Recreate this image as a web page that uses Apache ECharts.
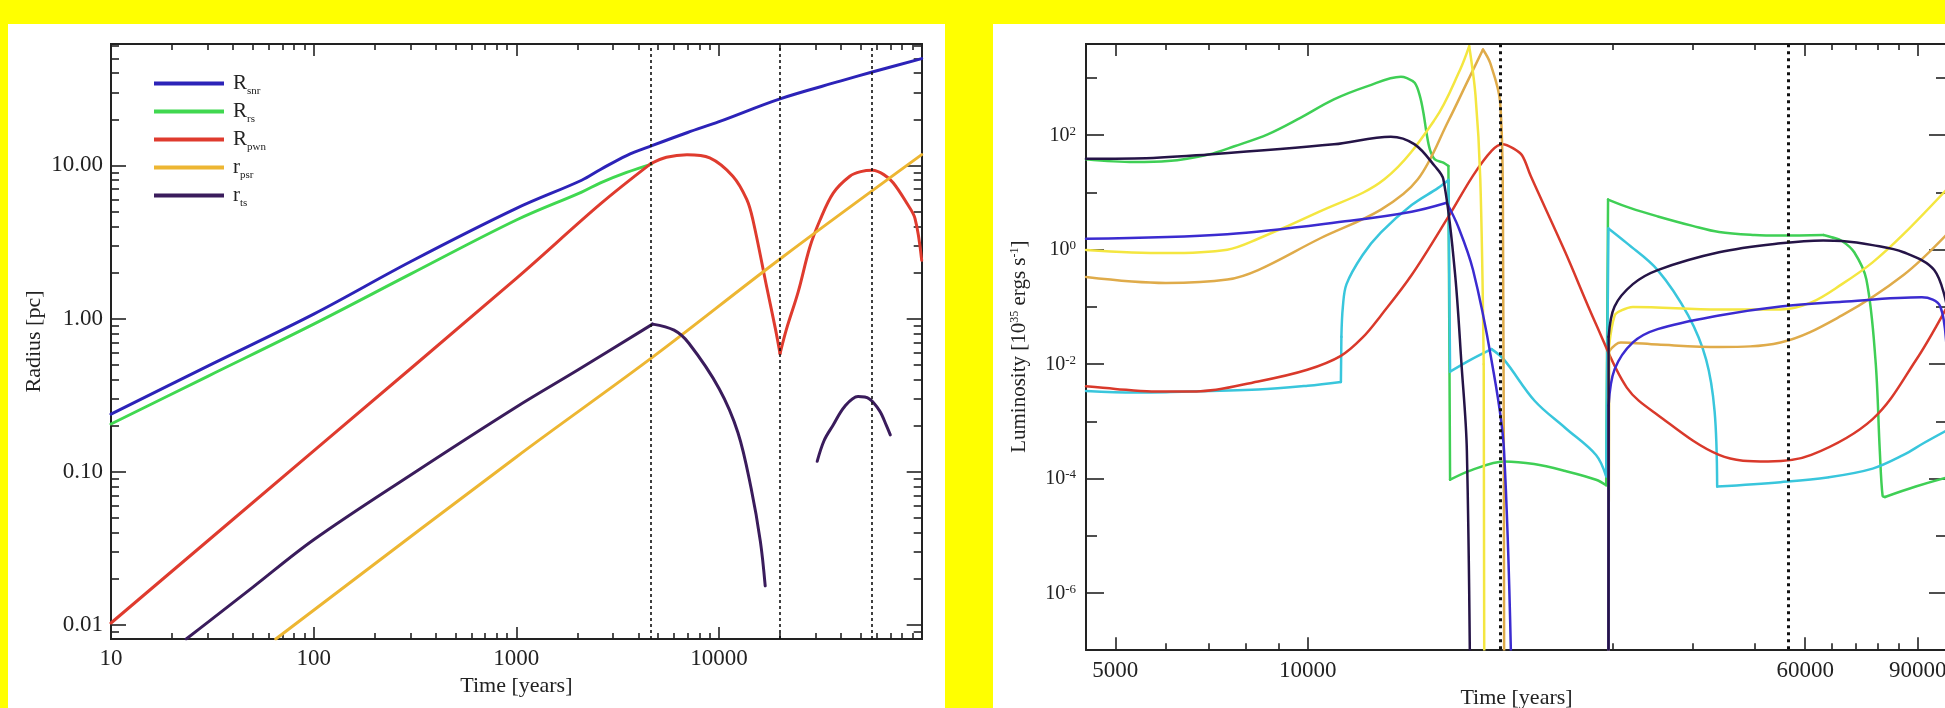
<!DOCTYPE html>
<html>
<head>
<meta charset="utf-8">
<script src="https://cdn.jsdelivr.net/npm/echarts@6/dist/echarts.min.js"></script>
<style>
  html, body { margin: 0; padding: 0; background: #ffff00; }
  #chart { width: 1945px; height: 708px; }
</style>
</head>
<body>
<div id="chart"></div>
<script>
// ---------- Left panel: characteristic radii vs. time ----------
const radiusXMajor = [10, 100, 1000, 10000, 100000];
const radiusXMinor = [20, 30, 40, 50, 60, 70, 80, 90,
  200, 300, 400, 500, 600, 700, 800, 900,
  2000, 3000, 4000, 5000, 6000, 7000, 8000, 9000,
  20000, 30000, 40000, 50000, 60000, 70000, 80000, 90000];
const radiusXLabels = [10, 100, 1000, 10000];
const radiusYMajor = [0.01, 0.1, 1, 10];
const radiusYMinor = [0.009, 0.02, 0.03, 0.04, 0.05, 0.06, 0.07, 0.08, 0.09,
  0.2, 0.3, 0.4, 0.5, 0.6, 0.7, 0.8, 0.9,
  2, 3, 4, 5, 6, 7, 8, 9, 20, 30, 40, 50, 60];
const radiusEpochs = [4600, 20000, 57000];

const rSnr = [[10, 0.238], [30, 0.49], [100, 1.07], [300, 2.35], [1000, 5.24], [2100, 8.0],
  [2600, 9.4], [3500, 11.6], [4700, 13.5], [7000, 16.4], [10000, 19.3], [20000, 27.2],
  [40000, 35.6], [57000, 40.7], [100000, 49.8]];
const rRs = [[10, 0.205], [30, 0.42], [100, 0.92], [300, 1.95], [1000, 4.4], [2100, 6.7],
  [2600, 7.7], [3500, 9.0], [4650, 10.2]];
const rPwn = [[10, 0.0103], [100, 0.137], [1000, 1.83], [2600, 5.6], [4610, 10.26], [5500, 11.3],
  [6950, 11.75], [9000, 11.2], [11700, 8.5], [13700, 6.0], [14700, 4.4], [17200, 1.6],
  [19000, 0.85], [20000, 0.59], [21500, 0.85], [24600, 1.5], [28000, 2.9], [31500, 4.4],
  [36600, 6.6], [44200, 8.5], [50000, 9.1], [57300, 9.28], [65000, 8.7], [72300, 7.7],
  [84200, 5.7], [92700, 4.5], [100000, 2.4]];
const rPsr = [[65, 0.0081], [1000, 0.125], [4700, 0.56], [20000, 2.45], [100000, 11.75]];
const rTsEarly = [[23.5, 0.0081], [30, 0.0104], [50, 0.0176], [100, 0.036], [300, 0.095],
  [1000, 0.265], [2000, 0.46], [4700, 0.92], [6000, 0.84], [7100, 0.69], [10000, 0.35],
  [12400, 0.18], [14400, 0.078], [16000, 0.035], [16900, 0.018]];
const rTsLate = [[30500, 0.117], [33000, 0.16], [36400, 0.2], [41700, 0.267], [48500, 0.31],
  [55000, 0.3], [62000, 0.25], [67000, 0.2], [70000, 0.174]];

// kinks (times) where a curve changes direction abruptly
const rPwnKinks = [4610, 20000];
const rTsKinks = [4700];

// ---------- Right panel: luminosities vs. time ----------
const lumXMajor = [5000, 10000, 60000, 90000];
const lumXMinor = [6000, 7000, 8000, 9000, 30000, 40000, 50000, 66000, 72000, 78000, 84000];
const lumXLabels = [5000, 10000, 60000, 90000];
const lumYMajor = [1e-6, 1e-4, 1e-2, 1, 100];
const lumYMinor = [1e-5, 1e-3, 0.1, 10, 1000];
const lumEpochs = [20000, 56500];

const lumGreen = [[4500, 37.7], [5350, 33.8], [6045, 35.2], [7000, 46], [7680, 64], [8660, 103],
  [9740, 200], [10990, 420], [12410, 716], [13990, 1045], [14260, 1000], [14700, 820],
  [14980, 480], [15170, 246], [15340, 110], [15530, 56], [15810, 37.7], [16300, 33],
  [16600, 28.8], [16700, 9.6e-5], [18000, 1.4e-4], [20300, 2.0e-4], [22600, 1.8e-4],
  [25300, 1.36e-4], [28250, 9.6e-5], [29300, 7.7e-5], [29500, 7.5], [32000, 5.3],
  [35300, 3.8], [40000, 2.6], [44000, 2.03], [50000, 1.8], [55000, 1.76], [64100, 1.8],
  [66000, 1.65], [68500, 1.42], [71600, 0.9], [74800, 0.3], [77300, 0.0116], [78500, 3.1e-4],
  [79300, 5e-5], [80000, 4.8e-5], [89350, 7.3e-5], [100000, 1.05e-4]];
const lumCyan = [[4500, 3.4e-3], [5370, 3.2e-3], [6000, 3.25e-3], [8365, 3.6e-3], [10000, 4.2e-3],
  [11270, 4.9e-3], [11290, 0.03], [11350, 0.1], [11500, 0.25], [12180, 0.8], [13020, 2.0],
  [14540, 6.0], [16000, 12], [16600, 16.5], [16700, 0.0074], [18000, 0.012], [19390, 0.0183],
  [20280, 0.012], [22640, 2.3e-3], [25290, 7.7e-4], [28250, 2.6e-4], [29300, 1.1e-4],
  [29540, 2.35], [31560, 1.3], [35270, 0.44], [39370, 0.071], [42000, 0.012], [43300, 1.5e-3],
  [43700, 7.3e-5], [54900, 8.7e-5], [65000, 1.05e-4], [76500, 1.5e-4], [85500, 2.6e-4],
  [92000, 4.2e-4], [100000, 7e-4]];
const lumRed = [[4500, 4.1e-3], [5000, 3.7e-3], [5700, 3.35e-3], [6700, 3.35e-3], [8365, 5.0e-3],
  [9985, 8.0e-3], [11270, 0.014], [12180, 0.029], [13020, 0.071], [14540, 0.36], [16610, 3.8],
  [18140, 19.6], [19390, 53], [20170, 69], [21000, 58], [21650, 44], [22330, 19.3],
  [25290, 0.9], [28250, 0.05], [31560, 3.9e-3], [35270, 1.3e-3], [44000, 2.6e-4],
  [52500, 2e-4], [61340, 2.6e-4], [76500, 1.1e-3], [89350, 0.0116], [100000, 0.1]];
const lumYellowEarly = [[4500, 0.99], [6000, 0.87], [7485, 1.0], [8365, 1.55], [10430, 4.6],
  [13180, 16.9], [15810, 188], [17320, 1400], [17890, 3570], [18300, 500], [18620, 17],
  [18850, 0.01], [18900, 1e-9]];
const lumYellowLate = [[29540, 1e-9], [29600, 0.02], [30200, 0.07], [30870, 0.0855], [32260, 0.1],
  [44000, 0.09], [54900, 0.09], [61340, 0.12], [68500, 0.25], [76500, 0.6], [85500, 1.86],
  [100000, 11.4]];
const lumOrangeEarly = [[4500, 0.333], [6000, 0.262], [7485, 0.30], [8365, 0.44], [10430, 1.55],
  [13020, 5], [14870, 16.9], [16610, 180], [17720, 800], [18800, 3130], [19300, 1800],
  [20000, 372], [20200, 5], [20300, 1e-9]];
const lumOrangeLate = [[29540, 1e-9], [29600, 0.0167], [30870, 0.024], [35270, 0.022], [44000, 0.02],
  [54900, 0.024], [68500, 0.071], [85500, 0.36], [100000, 1.86]];
const lumBlueEarly = [[4500, 1.55], [7485, 1.86], [11650, 3.2], [14540, 4.6], [16500, 6.6],
  [17200, 2.5], [18140, 0.44], [19390, 0.0116], [20280, 3.1e-4], [20950, 1e-9]];
const lumBlueLate = [[29540, 1e-9], [29560, 1.9e-3], [30200, 8.1e-3], [32260, 0.024], [35270, 0.041],
  [44000, 0.071], [54900, 0.102], [68500, 0.123], [91350, 0.147], [97600, 0.102], [100000, 0.0116]];
const lumNavyEarly = [[4500, 38.7], [5350, 39], [7000, 46], [10990, 69], [13490, 94], [14700, 69],
  [15800, 28.8], [16300, 16.9], [16980, 0.44], [17400, 0.01], [17740, 3.1e-4], [17990, 1e-9]];
const lumNavyLate = [[29540, 1e-9], [29560, 0.03], [30200, 0.102], [32260, 0.25], [35270, 0.44],
  [44000, 0.9], [54900, 1.29], [64000, 1.45], [68500, 1.42], [76500, 1.2], [85500, 0.9],
  [95500, 0.44], [100000, 0.1]];

const greenKinks = [16600, 16700, 29300, 29500, 64100, 80000];
const cyanKinks = [11270, 11290, 16600, 16700, 19390, 29300, 29540, 43700];
const yellowKinks = [17890, 18850, 29600];
const orangeKinks = [18800, 29600];
const blueKinks = [16500, 29560];
const navyKinks = [29560];

const FONT = '"Liberation Serif", "DejaVu Serif", serif';
const INK = '#222222';

function logAxis(grid, pos, min, max, ticks, len, extra) {
  return Object.assign({
    type: 'log', logBase: 10, gridIndex: grid, position: pos, min: min, max: max,
    axisLine: { show: true, onZero: false, lineStyle: { color: INK, width: 2 } },
    axisTick: { show: true, inside: true, length: len, customValues: ticks,
      lineStyle: { color: INK, width: 1.6 } },
    axisLabel: { show: false },
    splitLine: { show: false },
    minorTick: { show: false },
    minorSplitLine: { show: false }
  }, extra || {});
}

const nameStyle = { fontFamily: FONT, fontSize: 22, color: INK };

const xAxes = [
  // left panel
  logAxis(0, 'bottom', 10, 100000, radiusXMajor, 12, {
    axisLabel: { show: true, customValues: radiusXLabels, margin: 8,
      fontFamily: FONT, fontSize: 23, color: INK, formatter: v => String(Math.round(v)) },
    name: 'Time [years]', nameLocation: 'middle', nameGap: 36, nameTextStyle: nameStyle
  }),
  logAxis(0, 'bottom', 10, 100000, radiusXMinor, 6),
  logAxis(0, 'top', 10, 100000, radiusXMajor, 12),
  logAxis(0, 'top', 10, 100000, radiusXMinor, 6),
  // right panel
  logAxis(1, 'bottom', 4500, 100000, lumXMajor, 12, {
    axisLabel: { show: true, customValues: lumXLabels, margin: 10,
      fontFamily: FONT, fontSize: 23, color: INK, formatter: v => String(Math.round(v)) },
    name: 'Time [years]', nameLocation: 'middle', nameGap: 38, nameTextStyle: nameStyle
  }),
  logAxis(1, 'bottom', 4500, 100000, lumXMinor, 6),
  logAxis(1, 'top', 4500, 100000, lumXMajor, 12),
  logAxis(1, 'top', 4500, 100000, lumXMinor, 6)
];

const yAxes = [
  // left panel
  logAxis(0, 'left', 0.0081, 62, radiusYMajor, 15, {
    axisLabel: { show: true, customValues: radiusYMajor, margin: 8,
      fontFamily: FONT, fontSize: 23, color: INK, formatter: v => v.toFixed(2) },
    name: 'Radius [pc]', nameLocation: 'middle', nameGap: 66, nameTextStyle: nameStyle
  }),
  logAxis(0, 'left', 0.0081, 62, radiusYMinor, 8),
  logAxis(0, 'right', 0.0081, 62, radiusYMajor, 15),
  logAxis(0, 'right', 0.0081, 62, radiusYMinor, 8),
  // right panel
  logAxis(1, 'left', 1.05e-7, 3900, lumYMajor, 18, {
    axisLabel: { show: true, customValues: lumYMajor, margin: 10,
      fontFamily: FONT, fontSize: 20, color: INK,
      formatter: v => '{b|10}{p|' + Math.round(Math.log10(v)) + '}',
      rich: {
        b: { fontFamily: FONT, fontSize: 20, color: INK, lineHeight: 21, verticalAlign: 'bottom' },
        p: { fontFamily: FONT, fontSize: 13, color: INK, lineHeight: 13, verticalAlign: 'top' }
      } },
    name: 'Luminosity [10{p|35} ergs s{p|-1}]', nameLocation: 'middle', nameGap: 56,
    nameTextStyle: { fontFamily: FONT, fontSize: 21, color: INK,
      rich: { p: { fontFamily: FONT, fontSize: 12, color: INK, verticalAlign: 'top', lineHeight: 12 } } }
  }),
  logAxis(1, 'left', 1.05e-7, 3900, lumYMinor, 11),
  logAxis(1, 'right', 1.05e-7, 3900, lumYMajor, 18),
  logAxis(1, 'right', 1.05e-7, 3900, lumYMinor, 11)
];

// break a point list at its kinks so each smooth stretch keeps sharp corners
function splitAtKinks(data, kinks) {
  const parts = [];
  let cur = [];
  data.forEach(p => {
    cur.push(p);
    if (kinks.indexOf(p[0]) >= 0 && cur.length > 1) {
      parts.push(cur);
      cur = [p];
    }
  });
  if (cur.length > 1) parts.push(cur);
  return parts;
}

function curves(name, data, kinks, color, width, grid) {
  return splitAtKinks(data, kinks || []).map(part => ({
    type: 'line', name: name, data: part,
    xAxisIndex: grid === 0 ? 0 : 4, yAxisIndex: grid === 0 ? 0 : 4,
    showSymbol: false, symbol: 'none', clip: true, silent: true,
    smooth: part.length > 2 ? 0.35 : false,
    lineStyle: { color: color, width: width, cap: 'round', join: 'round' },
    itemStyle: { color: color },
    emphasis: { disabled: true }
  }));
}

function epochLines(values, grid, width, dash) {
  return {
    type: 'line', data: [], xAxisIndex: grid === 0 ? 0 : 4, yAxisIndex: grid === 0 ? 0 : 4,
    showSymbol: false, symbol: 'none', silent: true, z: 5,
    markLine: {
      silent: true, symbol: ['none', 'none'], label: { show: false }, animation: false,
      lineStyle: { color: '#111111', width: width, type: dash },
      data: values.map(v => ({ xAxis: v }))
    }
  };
}

const C = {
  snr: '#2c23b8', rs: '#40d850', pwn: '#df3b2e', psr: '#edb632', ts: '#3a1c5c',
  green: '#3fcf55', yellow: '#f4e640', orange: '#dfab4a', red: '#d9392b',
  cyan: '#39c6dc', blue: '#3b2bd0', navy: '#251447'
};

const legendText = {
  Rsnr: '{m|R}{s|snr}', Rrs: '{m|R}{s|rs}', Rpwn: '{m|R}{s|pwn}', rpsr: '{m|r}{s|psr}', rts: '{m|r}{s|ts}'
};

const series = [].concat(
  curves('Rsnr', rSnr, [], C.snr, 3, 0),
  curves('Rrs', rRs, [], C.rs, 3, 0),
  curves('Rpwn', rPwn, rPwnKinks, C.pwn, 3, 0),
  curves('rpsr', rPsr, [], C.psr, 3, 0),
  curves('rts', rTsEarly, rTsKinks, C.ts, 3, 0),
  curves('rts', rTsLate, [], C.ts, 3, 0),
  [epochLines(radiusEpochs, 0, 1.6, [3, 3])],

  curves('green', lumGreen, greenKinks, C.green, 2.5, 1),
  curves('cyan', lumCyan, cyanKinks, C.cyan, 2.5, 1),
  curves('red', lumRed, [], C.red, 2.5, 1),
  curves('orange', lumOrangeEarly, orangeKinks, C.orange, 2.5, 1),
  curves('orange', lumOrangeLate, orangeKinks, C.orange, 2.5, 1),
  curves('yellow', lumYellowEarly, yellowKinks, C.yellow, 2.5, 1),
  curves('yellow', lumYellowLate, yellowKinks, C.yellow, 2.5, 1),
  curves('blue', lumBlueEarly, blueKinks, C.blue, 2.5, 1),
  curves('blue', lumBlueLate, blueKinks, C.blue, 2.5, 1),
  curves('navy', lumNavyEarly, navyKinks, C.navy, 2.5, 1),
  curves('navy', lumNavyLate, navyKinks, C.navy, 2.5, 1),
  [epochLines(lumEpochs, 1, 3, [3, 4])]
);

const option = {
  backgroundColor: '#ffff00',
  animation: false,
  graphic: [
    { type: 'rect', shape: { x: 8, y: 24, width: 937, height: 684 }, style: { fill: '#ffffff' }, z: -10, silent: true },
    { type: 'rect', shape: { x: 993, y: 24, width: 952, height: 684 }, style: { fill: '#ffffff' }, z: -10, silent: true }
  ],
  grid: [
    { left: 111, top: 44, width: 810.7, height: 595, containLabel: false, outerBoundsMode: 'none' },
    { left: 1086, top: 44, width: 861, height: 605.3, containLabel: false, outerBoundsMode: 'none' }
  ],
  legend: {
    data: ['Rsnr', 'Rrs', 'Rpwn', 'rpsr', 'rts'],
    orient: 'vertical', left: 149, top: 68, itemWidth: 70, itemHeight: 4, itemGap: 4,
    icon: 'rect', selectedMode: false,
    formatter: n => legendText[n],
    textStyle: {
      padding: [0, 0, 0, 4],
      rich: {
        m: { fontFamily: FONT, fontSize: 21, color: INK, lineHeight: 21, verticalAlign: 'top' },
        s: { fontFamily: FONT, fontSize: 11, color: INK, lineHeight: 12, padding: [13, 0, 0, 0], verticalAlign: 'top' }
      }
    }
  },
  xAxis: xAxes,
  yAxis: yAxes,
  series: series
};

const chart = echarts.init(document.getElementById('chart'), null, { renderer: 'canvas' });
chart.setOption(option);
</script>
</body>
</html>
